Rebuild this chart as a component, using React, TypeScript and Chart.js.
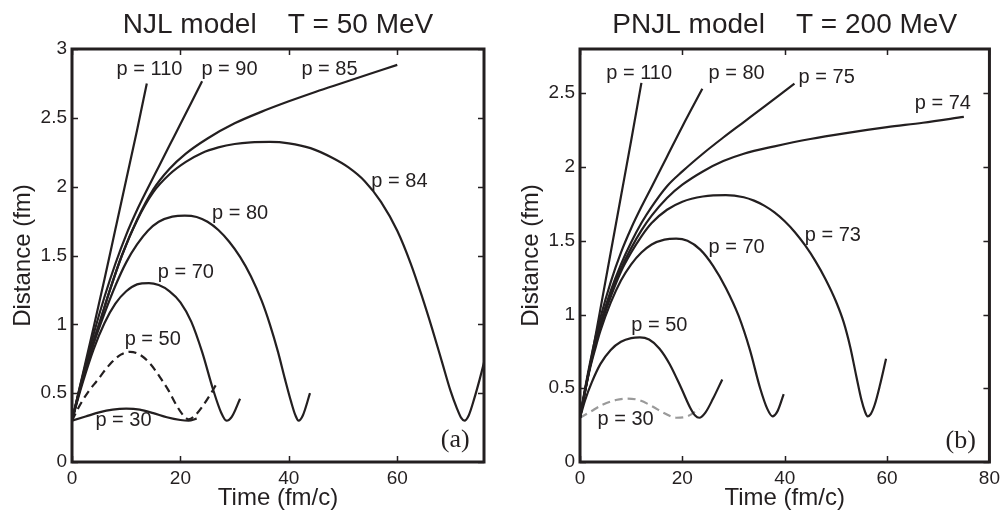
import React, { useEffect, useRef } from 'react';
import { Chart, registerables } from 'chart.js';

Chart.register(...registerables);

type Pt = [number, number];

const INK = '#231f20';
const GRAY = '#9a9a9a';
const SANS = '"Liberation Sans", Arial, Helvetica, sans-serif';
const SERIF = '"Liberation Serif", "Times New Roman", serif';

// ---------- Panel (a): NJL model, T = 50 MeV ----------
const NJL_TITLE = 'NJL model    T = 50 MeV';
const NJL_X_TICKS = [0, 20, 40, 60];
const NJL_Y_TICKS = [0, 0.5, 1, 1.5, 2, 2.5, 3];
const NJL_X_RANGE = [0, 76];
const NJL_Y_RANGE = [0, 3];

const NJL_P110: Pt[] = [[0, 0.3], [1, 0.47], [2, 0.64], [4, 0.98], [6, 1.33], [8, 1.69], [10, 2.05], [12, 2.41], [13.8, 2.75]];
const NJL_P90: Pt[] = [[0, 0.3], [1, 0.47], [2, 0.63], [4, 0.93], [6, 1.2], [8, 1.44], [10, 1.65], [12, 1.83], [14, 1.99], [16, 2.145], [18, 2.3], [20, 2.455], [22, 2.61], [24, 2.765]];
const NJL_P85: Pt[] = [[0, 0.3], [1, 0.46], [2, 0.61], [4, 0.88], [5, 1.0], [7, 1.25], [9.2, 1.5], [12, 1.76], [15, 1.98], [18, 2.13], [21, 2.24], [25, 2.35], [30, 2.46], [35, 2.545], [40, 2.62], [45, 2.69], [50, 2.755], [55, 2.82], [60, 2.885]];
const NJL_P84: Pt[] = [[0, 0.3], [1, 0.46], [2, 0.61], [4, 0.88], [5, 1.0], [7, 1.25], [9.2, 1.5], [12, 1.755], [15, 1.96], [18, 2.09], [21, 2.18], [24, 2.245], [27, 2.285], [30, 2.31], [33, 2.322], [36.5, 2.325], [40, 2.315], [44, 2.28], [48, 2.21], [51, 2.14], [54, 2.04], [57, 1.89], [60, 1.68], [62.5, 1.44], [64.5, 1.21], [66.5, 0.96], [68.3, 0.72], [69.8, 0.52], [71, 0.39], [71.8, 0.32], [72.4, 0.3], [73.2, 0.34], [74.2, 0.46], [75.2, 0.6], [76.5, 0.8]];
const NJL_P80: Pt[] = [[0, 0.3], [1, 0.455], [2, 0.6], [4, 0.86], [6, 1.08], [8, 1.28], [10, 1.45], [12, 1.58], [14, 1.68], [16, 1.745], [18.5, 1.782], [20.8, 1.79], [23, 1.78], [25, 1.745], [27, 1.685], [29, 1.6], [31, 1.49], [33, 1.35], [35, 1.17], [36.5, 1.0], [38, 0.8], [39.3, 0.6], [40.4, 0.44], [41.2, 0.34], [41.8, 0.3], [42.6, 0.34], [43.9, 0.5]];
const NJL_P70: Pt[] = [[0, 0.3], [1, 0.445], [2, 0.58], [4, 0.82], [6, 1.01], [8, 1.15], [10, 1.24], [12, 1.29], [14.2, 1.3], [16, 1.285], [18, 1.24], [20, 1.16], [22, 1.02], [24, 0.8], [26, 0.53], [27.5, 0.36], [28.5, 0.3], [29.5, 0.33], [31, 0.46]];
const NJL_P50: Pt[] = [[0, 0.3], [1, 0.38], [2, 0.45], [3, 0.51], [4.6, 0.59], [7, 0.71], [9, 0.78], [10.7, 0.8], [12.5, 0.78], [14.5, 0.71], [16.5, 0.6], [17.8, 0.52], [19.3, 0.41], [20.5, 0.34], [21.5, 0.31], [22.5, 0.33], [24, 0.4], [25.5, 0.49], [26.7, 0.57]];
const NJL_P30: Pt[] = [[0, 0.3], [2.5, 0.33], [5, 0.36], [7.5, 0.38], [10, 0.387], [12.5, 0.38], [15, 0.355], [17.5, 0.325], [20, 0.305], [21.5, 0.3], [23, 0.315]];

const NJL_LABEL_TEXT = ['p = 110', 'p = 90', 'p = 85', 'p = 84', 'p = 80', 'p = 70', 'p = 50', 'p = 30'];
const NJL_LABEL_T = [14.3, 29.05, 47.5, 60.4, 31.0, 21.0, 14.9, 9.5];
const NJL_LABEL_D = [2.81, 2.81, 2.81, 2.0, 1.765, 1.335, 0.85, 0.264];
const NJL_TAG = ['(a)', 70.7, 0.111] as const;

// ---------- Panel (b): PNJL model, T = 200 MeV ----------
const PNJL_TITLE = 'PNJL model    T = 200 MeV';
const PNJL_X_TICKS = [0, 20, 40, 60, 80];
const PNJL_Y_TICKS = [0, 0.5, 1, 1.5, 2, 2.5];
const PNJL_X_RANGE = [0, 80];
const PNJL_Y_RANGE = [0, 2.8];

const PNJL_P110: Pt[] = [[0, 0.3], [1, 0.48], [2, 0.66], [4, 1.04], [6, 1.42], [8, 1.8], [10, 2.18], [12, 2.57]];
const PNJL_P80: Pt[] = [[0, 0.3], [1, 0.5], [2, 0.68], [3, 0.84], [4, 0.98], [6, 1.22], [8, 1.42], [10, 1.585], [12, 1.73], [14, 1.865], [17, 2.07], [20, 2.275], [23.9, 2.53]];
const PNJL_P75: Pt[] = [[0, 0.3], [1, 0.49], [2, 0.66], [3, 0.81], [4, 0.94], [6, 1.16], [8, 1.34], [10, 1.49], [12, 1.62], [14, 1.73], [17, 1.87], [20, 1.97], [24, 2.09], [28, 2.2], [32, 2.305], [36, 2.41], [41.9, 2.565]];
const PNJL_P74: Pt[] = [[0, 0.3], [1, 0.49], [2, 0.66], [3, 0.8], [4, 0.93], [6, 1.14], [8, 1.31], [10, 1.45], [12, 1.57], [14, 1.67], [17, 1.79], [20, 1.88], [24, 1.97], [28, 2.04], [32, 2.09], [38, 2.14], [45, 2.19], [52, 2.23], [60, 2.27], [67, 2.3], [75, 2.34]];
const PNJL_P73: Pt[] = [[0, 0.3], [1, 0.48], [2, 0.65], [3, 0.79], [4, 0.92], [6, 1.12], [8, 1.29], [10, 1.42], [12, 1.53], [14, 1.62], [17, 1.71], [20, 1.765], [24, 1.8], [28.5, 1.81], [32, 1.795], [34, 1.772], [36, 1.738], [38, 1.692], [40, 1.632], [42, 1.558], [44, 1.468], [46, 1.362], [48, 1.238], [50, 1.09], [51.5, 0.95], [52.8, 0.78], [54, 0.58], [55, 0.42], [55.7, 0.34], [56.2, 0.31], [56.8, 0.325], [57.6, 0.39], [58.6, 0.52], [59.8, 0.7]];
const PNJL_P70: Pt[] = [[0, 0.3], [1, 0.48], [2, 0.64], [3, 0.77], [4, 0.89], [6, 1.08], [8, 1.23], [10, 1.34], [12, 1.42], [14, 1.475], [16.5, 1.508], [18.8, 1.515], [21, 1.5], [23.5, 1.44], [26, 1.33], [28.5, 1.18], [31, 0.99], [33.2, 0.76], [35.2, 0.5], [36.6, 0.36], [37.6, 0.31], [38.6, 0.345], [39.8, 0.46]];
const PNJL_P50: Pt[] = [[0, 0.3], [1, 0.42], [2.3, 0.54], [4, 0.665], [6, 0.76], [8, 0.815], [10, 0.84], [11.7, 0.845], [13.5, 0.83], [15.5, 0.77], [17.5, 0.665], [19.8, 0.5], [21.5, 0.37], [22.5, 0.315], [23.3, 0.3], [24.5, 0.335], [26, 0.43], [27.8, 0.56]];
const PNJL_P30: Pt[] = [[0, 0.3], [2, 0.34], [4.5, 0.39], [7, 0.42], [9.3, 0.43], [11.5, 0.42], [14, 0.38], [16.5, 0.33], [18.8, 0.3], [21, 0.31], [23.3, 0.36]];

const PNJL_LABEL_TEXT = ['p = 110', 'p = 80', 'p = 75', 'p = 74', 'p = 73', 'p = 70', 'p = 50', 'p = 30'];
const PNJL_LABEL_T = [11.55, 30.6, 48.2, 70.9, 49.4, 30.6, 15.5, 8.9];
const PNJL_LABEL_D = [2.597, 2.597, 2.567, 2.391, 1.5, 1.419, 0.89, 0.251];
const PNJL_TAG = ['(b)', 74.4, 0.093] as const;

// ---------- shared layout ----------
const CANVAS_H = 513;
const PLOT_TOP = 49;
const PLOT_BOTTOM = 462;

type Series = { data: Pt[]; color: string; dash?: number[] };

type Panel = {
  title: string;
  xTicks: number[];
  yTicks: number[];
  xRange: number[];
  yRange: number[];
  series: Series[];
  labelText: string[];
  labelT: number[];
  labelD: number[];
  tag: readonly [string, number, number];
  canvasW: number;
  plotLeft: number;
  plotRight: number;
  yTitlePad: number;
};

const PANEL_A: Panel = {
  title: NJL_TITLE,
  xTicks: NJL_X_TICKS,
  yTicks: NJL_Y_TICKS,
  xRange: NJL_X_RANGE,
  yRange: NJL_Y_RANGE,
  series: [
    { data: NJL_P110, color: INK },
    { data: NJL_P90, color: INK },
    { data: NJL_P85, color: INK },
    { data: NJL_P84, color: INK },
    { data: NJL_P80, color: INK },
    { data: NJL_P70, color: INK },
    { data: NJL_P50, color: INK, dash: [8, 5] },
    { data: NJL_P30, color: INK },
  ],
  labelText: NJL_LABEL_TEXT,
  labelT: NJL_LABEL_T,
  labelD: NJL_LABEL_D,
  tag: NJL_TAG,
  canvasW: 500,
  plotLeft: 72,
  plotRight: 484,
  yTitlePad: 9,
};

const PANEL_B: Panel = {
  title: PNJL_TITLE,
  xTicks: PNJL_X_TICKS,
  yTicks: PNJL_Y_TICKS,
  xRange: PNJL_X_RANGE,
  yRange: PNJL_Y_RANGE,
  series: [
    { data: PNJL_P110, color: INK },
    { data: PNJL_P80, color: INK },
    { data: PNJL_P75, color: INK },
    { data: PNJL_P74, color: INK },
    { data: PNJL_P73, color: INK },
    { data: PNJL_P70, color: INK },
    { data: PNJL_P50, color: INK },
    { data: PNJL_P30, color: GRAY, dash: [8, 5] },
  ],
  labelText: PNJL_LABEL_TEXT,
  labelT: PNJL_LABEL_T,
  labelD: PNJL_LABEL_D,
  tag: PNJL_TAG,
  canvasW: 505,
  plotLeft: 80,
  plotRight: 492,
  yTitlePad: 17,
};

function decorPlugin(p: Panel) {
  return {
    id: 'decor',
    afterDatasetsDraw(chart: any) {
      const { ctx, chartArea: a, scales } = chart;
      const x = scales.x;
      const y = scales.y;
      ctx.save();
      ctx.strokeStyle = INK;
      ctx.lineWidth = 1.5;
      ctx.beginPath();
      for (const t of x.ticks) {
        const px = Math.round(x.getPixelForValue(t.value)) + 0.5;
        ctx.moveTo(px, a.bottom);
        ctx.lineTo(px, a.bottom - 6);
        ctx.moveTo(px, a.top);
        ctx.lineTo(px, a.top + 6);
      }
      for (const t of y.ticks) {
        const py = Math.round(y.getPixelForValue(t.value)) + 0.5;
        ctx.moveTo(a.left, py);
        ctx.lineTo(a.left + 6, py);
        ctx.moveTo(a.right, py);
        ctx.lineTo(a.right - 6, py);
      }
      ctx.stroke();
      ctx.lineWidth = 3;
      ctx.strokeRect(a.left, a.top, a.right - a.left, a.bottom - a.top);

      ctx.fillStyle = INK;
      ctx.textAlign = 'center';
      ctx.textBaseline = 'alphabetic';
      ctx.font = `20px ${SANS}`;
      p.labelText.forEach((txt, i) => {
        ctx.fillText(txt, x.getPixelForValue(p.labelT[i]), y.getPixelForValue(p.labelD[i]));
      });
      ctx.font = `26px ${SERIF}`;
      ctx.fillText(p.tag[0], x.getPixelForValue(p.tag[1]), y.getPixelForValue(p.tag[2]));

      ctx.font = `28px ${SANS}`;
      ctx.fillText(p.title, (a.left + a.right) / 2, a.top - 16);
      ctx.restore();
    },
  };
}

function makeConfig(p: Panel): any {
  return {
    type: 'scatter',
    data: {
      datasets: p.series.map((s) => ({
        data: s.data.map(([t, d]) => ({ x: t, y: d })),
        showLine: true,
        borderColor: s.color,
        backgroundColor: s.color,
        borderWidth: 2.2,
        borderDash: s.dash || [],
        pointRadius: 0,
        pointHoverRadius: 0,
        fill: false,
        cubicInterpolationMode: 'monotone',
      })),
    },
    options: {
      animation: false,
      responsive: false,
      events: [],
      layout: {
        padding: { left: 0, top: PLOT_TOP, right: p.canvasW - p.plotRight, bottom: 0 },
      },
      plugins: {
        legend: { display: false },
        tooltip: { enabled: false },
        title: { display: false },
      },
      scales: {
        x: {
          type: 'linear',
          min: p.xRange[0],
          max: p.xRange[1],
          afterBuildTicks: (s: any) => {
            s.ticks = p.xTicks.map((v) => ({ value: v }));
          },
          afterFit: (s: any) => {
            s.height = CANVAS_H - PLOT_BOTTOM;
          },
          grid: { display: false, drawTicks: false },
          border: { display: false },
          ticks: {
            padding: 5,
            color: INK,
            font: { family: SANS, size: 19 },
            maxRotation: 0,
            autoSkip: false,
            callback: (v: any) => String(v),
          },
          title: {
            display: true,
            text: 'Time (fm/c)',
            color: INK,
            font: { family: SANS, size: 24 },
            padding: { top: 0, bottom: 0 },
          },
        },
        y: {
          type: 'linear',
          min: p.yRange[0],
          max: p.yRange[1],
          afterBuildTicks: (s: any) => {
            s.ticks = p.yTicks.map((v) => ({ value: v }));
          },
          afterFit: (s: any) => {
            s.width = p.plotLeft;
          },
          grid: { display: false, drawTicks: false },
          border: { display: false },
          ticks: {
            padding: 5,
            color: INK,
            font: { family: SANS, size: 19 },
            autoSkip: false,
            callback: (v: any) => String(v),
          },
          title: {
            display: true,
            text: 'Distance (fm)',
            color: INK,
            font: { family: SANS, size: 24 },
            padding: { top: p.yTitlePad, bottom: 0 },
          },
        },
      },
    },
    plugins: [decorPlugin(p)],
  };
}

export default function App() {
  const leftRef = useRef<HTMLCanvasElement>(null);
  const rightRef = useRef<HTMLCanvasElement>(null);

  useEffect(() => {
    const c1 = new Chart(leftRef.current as HTMLCanvasElement, makeConfig(PANEL_A));
    const c2 = new Chart(rightRef.current as HTMLCanvasElement, makeConfig(PANEL_B));
    return () => {
      c1.destroy();
      c2.destroy();
    };
  }, []);

  return (
    <div style={{ position: 'fixed', left: 0, top: 0, width: 1005, height: 513, background: '#fff' }}>
      <canvas
        ref={leftRef}
        width={PANEL_A.canvasW}
        height={CANVAS_H}
        style={{ position: 'absolute', left: 0, top: 0, width: PANEL_A.canvasW, height: CANVAS_H }}
      />
      <canvas
        ref={rightRef}
        width={PANEL_B.canvasW}
        height={CANVAS_H}
        style={{ position: 'absolute', left: 500, top: 0, width: PANEL_B.canvasW, height: CANVAS_H }}
      />
    </div>
  );
}
